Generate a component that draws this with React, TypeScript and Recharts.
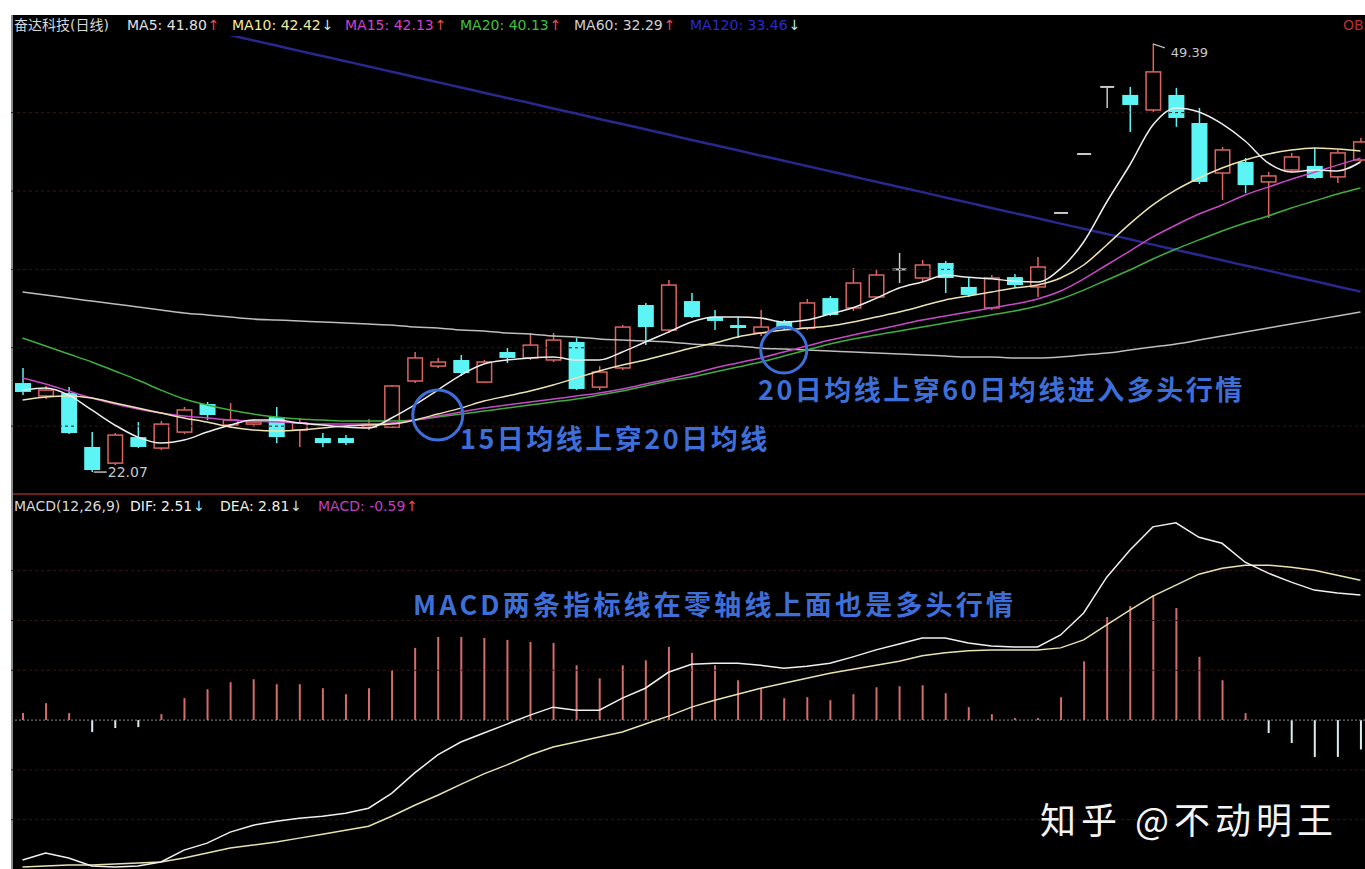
import React from "react";
import { ComposedChart, Bar, Line, XAxis, YAxis, ReferenceLine, ReferenceDot, Cell } from "recharts";

// 日线 K 线（开、高、低、收）
const opens = [27.75, 26.92, 27.11, 23.67, 22.64, 24.30, 23.60, 24.62, 26.41, 25.07, 25.13, 25.58, 24.75, 24.24, 24.24, 24.94, 24.94, 27.88, 28.83, 29.22, 27.81, 29.73, 29.35, 29.22, 30.37, 27.49, 28.71, 32.73, 31.13, 32.98, 31.96, 31.45, 30.94, 31.64, 31.26, 33.17, 32.54, 33.24, 35.00, 34.45, 35.41, 33.88, 32.54, 34.51, 33.88, 38.60, 42.36, 46.64, 46.13, 45.17, 46.13, 44.34, 41.15, 41.85, 40.58, 41.34, 41.60, 40.90, 41.98];
const highs = [28.71, 27.56, 27.49, 24.62, 24.56, 25.26, 25.32, 26.22, 26.54, 26.47, 25.45, 26.22, 25.52, 24.56, 24.43, 25.45, 27.62, 29.73, 29.35, 29.54, 29.22, 29.98, 30.94, 30.94, 30.62, 28.83, 31.45, 32.86, 34.32, 33.49, 32.41, 31.96, 32.41, 31.77, 33.11, 33.30, 35.09, 34.96, 36.05, 35.60, 35.54, 34.51, 34.64, 34.70, 35.79, 38.63, 42.39, 46.64, 46.64, 49.39, 46.58, 45.30, 42.81, 42.11, 41.22, 42.43, 42.75, 42.62, 43.38];
const lows = [26.98, 26.73, 24.49, 22.07, 22.52, 23.60, 23.47, 24.49, 25.39, 24.88, 24.95, 23.92, 23.67, 23.67, 23.79, 24.75, 24.88, 27.75, 28.71, 28.20, 27.75, 29.03, 29.22, 29.09, 27.30, 27.30, 28.58, 30.17, 30.94, 31.90, 31.13, 30.62, 30.75, 31.13, 31.13, 32.03, 32.34, 33.11, 34.13, 34.26, 33.49, 33.24, 32.41, 33.81, 33.24, 38.57, 42.33, 45.30, 43.77, 45.05, 44.09, 40.45, 39.43, 39.87, 38.28, 41.22, 40.77, 40.51, 41.85];
const closes = [27.18, 27.30, 24.56, 22.20, 24.43, 23.67, 25.13, 26.03, 25.71, 25.39, 25.26, 24.30, 25.20, 23.92, 23.92, 25.13, 27.56, 29.35, 29.09, 28.39, 29.09, 29.35, 30.17, 30.49, 27.37, 28.45, 31.32, 31.32, 34.00, 31.96, 31.71, 31.26, 31.32, 31.26, 32.86, 32.09, 34.13, 34.64, 35.00, 35.28, 34.45, 33.37, 34.45, 34.00, 35.15, 38.60, 42.36, 46.64, 45.49, 47.60, 44.66, 40.58, 42.62, 40.38, 40.96, 42.17, 40.83, 42.43, 43.13];

// 均线
const ma5 = [27.30, 27.43, 26.98, 26.03, 25.07, 24.30, 23.92, 24.11, 24.62, 25.07, 25.39, 25.39, 25.20, 25.07, 24.94, 24.88, 25.52, 26.35, 27.30, 28.26, 28.96, 29.22, 29.35, 29.41, 29.22, 29.22, 29.73, 30.37, 31.00, 31.64, 31.96, 31.96, 31.90, 31.64, 31.77, 32.15, 32.55, 33.15, 33.81, 34.20, 34.62, 34.50, 34.40, 34.25, 34.20, 35.05, 36.75, 39.30, 41.66, 44.21, 45.30, 45.04, 44.28, 43.19, 41.79, 41.22, 41.34, 41.28, 41.85];
const ma10 = [26.66, 26.86, 26.92, 26.79, 26.47, 26.15, 25.84, 25.52, 25.26, 24.94, 24.75, 24.69, 24.75, 24.88, 25.01, 25.07, 25.13, 25.39, 25.77, 26.15, 26.60, 26.92, 27.24, 27.62, 28.07, 28.52, 28.90, 29.22, 29.60, 29.98, 30.30, 30.69, 30.94, 31.13, 31.26, 31.39, 31.64, 31.96, 32.28, 32.66, 33.05, 33.30, 33.56, 33.81, 34.00, 34.45, 35.28, 36.56, 37.90, 39.11, 40.07, 40.83, 41.47, 41.98, 42.36, 42.62, 42.75, 42.68, 42.56];
const ma15 = [28.07, 27.69, 27.24, 26.79, 26.41, 26.09, 25.84, 25.64, 25.52, 25.39, 25.32, 25.26, 25.20, 25.13, 25.13, 25.13, 25.20, 25.39, 25.64, 25.90, 26.15, 26.35, 26.54, 26.73, 26.92, 27.11, 27.37, 27.69, 28.00, 28.32, 28.71, 29.03, 29.35, 29.73, 30.11, 30.49, 30.81, 31.13, 31.45, 31.77, 32.03, 32.28, 32.54, 32.79, 33.11, 33.62, 34.39, 35.28, 36.17, 37.07, 37.83, 38.53, 39.11, 39.75, 40.25, 40.75, 41.20, 41.65, 42.10];
const ma20 = [30.62, 30.11, 29.60, 29.09, 28.52, 27.94, 27.30, 26.73, 26.35, 26.03, 25.77, 25.58, 25.45, 25.39, 25.32, 25.32, 25.32, 25.39, 25.58, 25.77, 25.96, 26.15, 26.35, 26.54, 26.73, 26.98, 27.24, 27.56, 27.88, 28.13, 28.45, 28.77, 29.09, 29.47, 29.86, 30.24, 30.56, 30.81, 31.07, 31.32, 31.58, 31.83, 32.09, 32.34, 32.66, 33.11, 33.68, 34.32, 34.96, 35.66, 36.30, 36.88, 37.45, 37.96, 38.41, 38.92, 39.36, 39.81, 40.19];
const ma60 = [33.56, 33.37, 33.17, 32.98, 32.79, 32.60, 32.41, 32.22, 32.09, 31.96, 31.83, 31.77, 31.71, 31.64, 31.58, 31.51, 31.45, 31.32, 31.26, 31.13, 31.07, 30.94, 30.88, 30.75, 30.69, 30.56, 30.49, 30.43, 30.37, 30.24, 30.17, 30.11, 29.98, 29.92, 29.86, 29.79, 29.73, 29.66, 29.60, 29.54, 29.47, 29.41, 29.41, 29.35, 29.35, 29.41, 29.54, 29.66, 29.86, 30.05, 30.24, 30.49, 30.75, 31.00, 31.26, 31.51, 31.77, 32.03, 32.28];
const ma120 = [52.96, 52.64, 52.29, 51.95, 51.62, 51.28, 50.95, 50.62, 50.28, 49.95, 49.61, 49.28, 48.94, 48.61, 48.28, 47.95, 47.61, 47.28, 46.94, 46.61, 46.27, 45.94, 45.61, 45.27, 44.94, 44.60, 44.27, 43.94, 43.60, 43.26, 42.93, 42.60, 42.26, 41.93, 41.60, 41.26, 40.93, 40.59, 40.26, 39.93, 39.59, 39.26, 38.92, 38.59, 38.26, 37.92, 37.59, 37.26, 36.92, 36.58, 36.25, 35.92, 35.58, 35.25, 34.92, 34.58, 34.25, 33.91, 33.58];

// MACD(12,26,9)
const dif = [-2.81, -2.67, -2.77, -2.93, -2.95, -2.93, -2.85, -2.61, -2.47, -2.25, -2.11, -2.03, -1.97, -1.93, -1.87, -1.77, -1.47, -1.06, -0.70, -0.44, -0.26, -0.08, 0.10, 0.26, 0.20, 0.20, 0.44, 0.64, 0.96, 1.12, 1.14, 1.14, 1.10, 1.04, 1.08, 1.14, 1.27, 1.41, 1.53, 1.65, 1.65, 1.55, 1.49, 1.47, 1.47, 1.71, 2.15, 2.87, 3.41, 3.88, 3.96, 3.67, 3.55, 3.17, 2.95, 2.77, 2.61, 2.55, 2.51];
const dea = [-2.95, -2.93, -2.91, -2.91, -2.89, -2.87, -2.85, -2.77, -2.67, -2.57, -2.51, -2.45, -2.37, -2.29, -2.21, -2.13, -1.93, -1.71, -1.51, -1.29, -1.08, -0.90, -0.70, -0.54, -0.44, -0.34, -0.24, -0.08, 0.08, 0.26, 0.40, 0.52, 0.64, 0.74, 0.84, 0.94, 1.02, 1.10, 1.18, 1.29, 1.35, 1.39, 1.41, 1.41, 1.41, 1.45, 1.61, 1.91, 2.21, 2.49, 2.71, 2.93, 3.05, 3.11, 3.11, 3.07, 3.01, 2.91, 2.81];
const macd = [0.14, 0.34, 0.14, -0.24, -0.16, -0.14, 0.12, 0.44, 0.62, 0.76, 0.82, 0.72, 0.72, 0.64, 0.52, 0.64, 1.00, 1.45, 1.67, 1.67, 1.65, 1.61, 1.57, 1.55, 1.10, 0.84, 1.10, 1.20, 1.47, 1.35, 1.10, 0.80, 0.64, 0.44, 0.46, 0.40, 0.52, 0.66, 0.68, 0.70, 0.54, 0.26, 0.12, 0.04, 0.04, 0.46, 1.18, 2.07, 2.29, 2.51, 2.25, 1.27, 0.80, 0.14, -0.26, -0.46, -0.74, -0.74, -0.59];

const priceGrid = [25, 30, 35, 40, 45];
const macdGrid = [-2, -1, 1, 2, 3];

const rows = opens.map((o, i) => ({
  i, o, h: highs[i], l: lows[i], c: closes[i],
  ma5: ma5[i], ma10: ma10[i], ma15: ma15[i], ma20: ma20[i], ma60: ma60[i], ma120: ma120[i],
}));
const macdRows = dif.map((d, i) => ({ i, dif: d, dea: dea[i], macd: macd[i] }));

const FONT = '"DejaVu Sans", "Noto Sans CJK SC", sans-serif';
const CJK = '"Noto Sans CJK SC", sans-serif';
const UP = "#dc6560";
const DOWN = "#5cf4f4";
const FLAT = "#c8c8c8";
const BLUE = "#3e6fd8";
const GRID = "#3e1212";
const RED_ARROW = "#e05050";
const CYAN_ARROW = "#b8ecf4";

const Candle = (props: any) => {
  const { x, y, width, height, payload } = props;
  if (x == null || y == null) return null;
  const { o, h, l, c } = payload;
  const top = Math.min(y, y + height);
  const span = Math.abs(height);
  const toY = (v: number) => (h === l ? top : top + ((h - v) / (h - l)) * span);
  const cx = x + width / 2;
  const flat = Math.abs(o - c) < 0.005;
  const color = flat ? FLAT : c > o ? UP : DOWN;
  const yo = toY(o);
  const yc = toY(c);
  const bt = Math.min(yo, yc);
  const bb = Math.max(yo, yc);
  return (
    <g>
      <line x1={cx} x2={cx} y1={toY(h)} y2={bt} stroke={color} strokeWidth={1.5} />
      <line x1={cx} x2={cx} y1={bb} y2={toY(l)} stroke={color} strokeWidth={1.5} />
      {flat ? (
        <line x1={x + 1} x2={x + width - 1} y1={yo} y2={yo} stroke={color} strokeWidth={2} />
      ) : c > o ? (
        <rect x={x + 0.75} y={bt} width={width - 1.5} height={Math.max(bb - bt, 1)} fill="none" stroke={color} strokeWidth={1.5} />
      ) : (
        <rect x={x} y={bt} width={width} height={Math.max(bb - bt, 1.5)} fill={color} />
      )}
    </g>
  );
};

// 图例项：文字 + 箭头紧随其后
const Item = ({ x, y, color, arrow, arrowColor, children }: any) => (
  <div style={{ position: "absolute", left: x, top: y, color, fontSize: 14, fontFamily: FONT, whiteSpace: "nowrap", lineHeight: 1 }}>
    {children}
    {arrow ? <span style={{ color: arrowColor, marginLeft: 1 }}>{arrow}</span> : null}
  </div>
);

const Note = ({ x, y, spacing = 2.5, children }: any) => (
  <div style={{ position: "absolute", left: x, top: y, color: BLUE, fontSize: 27, fontFamily: CJK, fontWeight: 700, letterSpacing: spacing, whiteSpace: "nowrap", lineHeight: 1 }}>
    {children}
  </div>
);

export default function App() {
  return (
    <div style={{ position: "fixed", left: 0, top: 0, width: 1365, height: 869, background: "#fff", overflow: "hidden", fontFamily: FONT }}>
      <div style={{ position: "absolute", left: 12, top: 15, width: 1353, height: 854, background: "#000" }} />
      <div style={{ position: "absolute", left: 11, top: 15, width: 2, height: 854, background: "#8a8a8a" }} />
      <div style={{ position: "absolute", left: 13, top: 493, width: 1352, height: 2, background: "#6e1c1c" }} />

      {/* 主图 */}
      <div style={{ position: "absolute", left: 11, top: 36 }}>
        <ComposedChart width={1361} height={458} data={rows} margin={{ top: 0, right: 0, bottom: 0, left: 0 }}>
          <XAxis dataKey="i" hide />
          <YAxis hide domain={[20.67, 49.89]} allowDataOverflow />
          {priceGrid.map((v) => (
            <ReferenceLine key={v} y={v} stroke={GRID} strokeDasharray="3 3" />
          ))}
          <Bar dataKey={(d: any) => [d.l, d.h]} barSize={16} shape={Candle} isAnimationActive={false} />
          <Line dataKey="ma120" type="monotone" stroke="#28288e" strokeWidth={2.5} dot={false} isAnimationActive={false} />
          <Line dataKey="ma60" type="monotone" stroke="#bdbdbd" strokeWidth={1.5} dot={false} isAnimationActive={false} />
          <Line dataKey="ma20" type="monotone" stroke="#3fae3f" strokeWidth={1.5} dot={false} isAnimationActive={false} />
          <Line dataKey="ma15" type="monotone" stroke="#c64ac6" strokeWidth={1.5} dot={false} isAnimationActive={false} />
          <Line dataKey="ma10" type="monotone" stroke="#ece3b0" strokeWidth={1.5} dot={false} isAnimationActive={false} />
          <Line dataKey="ma5" type="monotone" stroke="#eeeeee" strokeWidth={1.5} dot={false} isAnimationActive={false} />
          <ReferenceDot x={18} y={25.71} r={25} fill="none" stroke={BLUE} strokeWidth={3} ifOverflow="visible" />
          <ReferenceDot x={33} y={29.86} r={23} fill="none" stroke={BLUE} strokeWidth={3} ifOverflow="visible" />
          <ReferenceDot
            x={3}
            y={lows[3]}
            r={0}
            ifOverflow="visible"
            shape={(p: any) => (
              <g>
                <line x1={p.cx + 2} y1={p.cy} x2={p.cx + 15} y2={p.cy} stroke="#bbbbbb" strokeWidth={1.5} />
                <text x={p.cx + 16} y={p.cy + 5} fill="#c8c8c8" fontSize={14} fontFamily={FONT}>
                  {lows[3].toFixed(2)}
                </text>
              </g>
            )}
          />
          <ReferenceDot
            x={49}
            y={highs[49]}
            r={0}
            ifOverflow="visible"
            shape={(p: any) => (
              <g>
                <line x1={p.cx} y1={p.cy} x2={p.cx + 12} y2={p.cy + 4} stroke="#bbbbbb" strokeWidth={1.5} />
                <text x={p.cx + 18} y={p.cy + 13} fill="#c8c8c8" fontSize={13} fontFamily={FONT}>
                  {highs[49].toFixed(2)}
                </text>
              </g>
            )}
          />
        </ComposedChart>
      </div>

      {/* MACD 副图 */}
      <div style={{ position: "absolute", left: 11, top: 494 }}>
        <ComposedChart width={1361} height={375} data={macdRows} margin={{ top: 0, right: 0, bottom: 0, left: 0 }}>
          <XAxis dataKey="i" hide />
          <YAxis hide domain={[-2.99, 4.54]} allowDataOverflow />
          {macdGrid.map((v) => (
            <ReferenceLine key={v} y={v} stroke={GRID} strokeDasharray="3 3" />
          ))}
          <ReferenceLine y={0} stroke="#8a8a8a" strokeDasharray="2 2" />
          <Bar dataKey="macd" barSize={2} isAnimationActive={false}>
            {macdRows.map((r) => (
              <Cell key={r.i} fill={r.macd >= 0 ? "#d66b6b" : "#d8eef0"} />
            ))}
          </Bar>
          <Line dataKey="dea" type="linear" stroke="#e8e2b0" strokeWidth={1.5} dot={false} isAnimationActive={false} />
          <Line dataKey="dif" type="linear" stroke="#f0f0f0" strokeWidth={1.5} dot={false} isAnimationActive={false} />
        </ComposedChart>
      </div>

      {/* 主图图例 */}
      <Item x={14} y={18} color="#d8d8d8">奋达科技(日线)</Item>
      <Item x={127} y={18} color="#e0e0e0" arrow="↑" arrowColor={RED_ARROW}>MA5: 41.80</Item>
      <Item x={232} y={18} color="#f2eaa0" arrow="↓" arrowColor={CYAN_ARROW}>MA10: 42.42</Item>
      <Item x={345} y={18} color="#d040d0" arrow="↑" arrowColor={RED_ARROW}>MA15: 42.13</Item>
      <Item x={460} y={18} color="#40c040" arrow="↑" arrowColor={RED_ARROW}>MA20: 40.13</Item>
      <Item x={574} y={18} color="#d0d0d0" arrow="↑" arrowColor={RED_ARROW}>MA60: 32.29</Item>
      <Item x={690} y={18} color="#2a2ad0" arrow="↓" arrowColor={CYAN_ARROW}>MA120: 33.46</Item>
      <Item x={1343} y={18} color="#b83030">OB</Item>

      {/* MACD 图例 */}
      <Item x={14} y={499} color="#d8d8d8">MACD(12,26,9)</Item>
      <Item x={130} y={499} color="#f0f0f0" arrow="↓" arrowColor={CYAN_ARROW}>DIF: 2.51</Item>
      <Item x={220} y={499} color="#f0f0e0" arrow="↓" arrowColor={CYAN_ARROW}>DEA: 2.81</Item>
      <Item x={318} y={499} color="#c040c0" arrow="↑" arrowColor={RED_ARROW}>MACD: -0.59</Item>

      {/* 注释 */}
      <Note x={460} y={424}>15日均线上穿20日均线</Note>
      <Note x={758} y={375}>20日均线上穿60日均线进入多头行情</Note>
      <Note x={413} y={590} spacing={3.2}>MACD两条指标线在零轴线上面也是多头行情</Note>

      <div style={{ position: "absolute", left: 1040, top: 800, color: "#f4f4f4", fontSize: 36, fontFamily: CJK, letterSpacing: 5, whiteSpace: "nowrap", lineHeight: 1 }}>
        知乎 @不动明王
      </div>
    </div>
  );
}
